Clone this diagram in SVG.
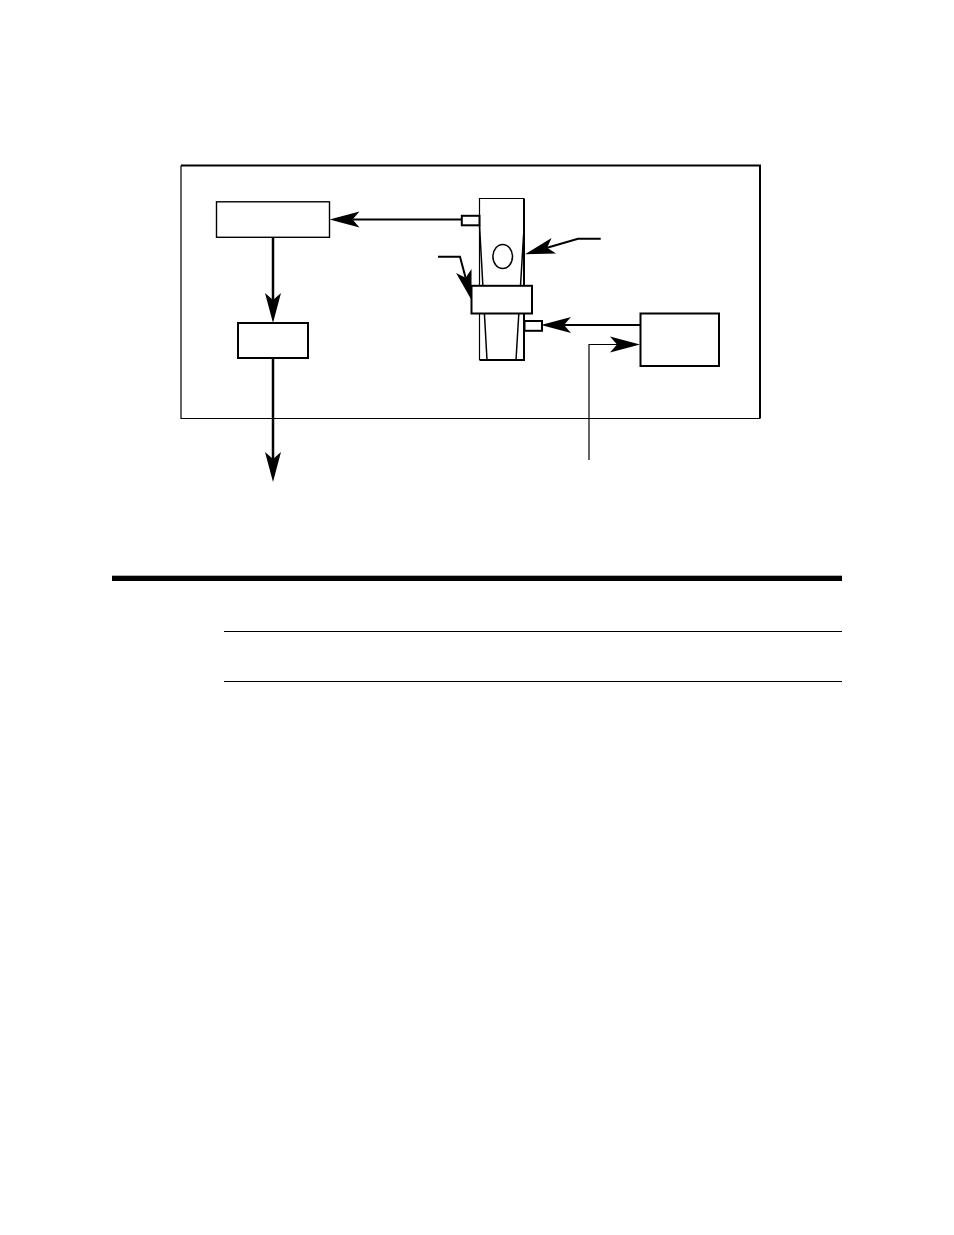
<svg xmlns="http://www.w3.org/2000/svg" width="954" height="1235" viewBox="0 0 954 1235">
<style>
.n{fill:#fff;stroke:#000;stroke-width:2}
.f{fill:#fff;stroke:#000;stroke-width:1.400}
.c{fill:none;stroke:#000;stroke-width:2}
.v{fill:none;stroke:#000;stroke-width:2.500}
.t{fill:none;stroke:#000;stroke-width:1.200}
.i{fill:none;stroke:#000;stroke-width:1.500}
</style>
<defs>
<marker id="ah" markerUnits="userSpaceOnUse" markerWidth="32" markerHeight="18" viewBox="0 0 32 18" refX="7" refY="9" orient="auto" overflow="visible">
<path d="M0,1 L30,9 L0,17 L7,9 Z" fill="#000"/>
</marker>
</defs>
<rect width="954" height="1235" fill="#fff"/>
<g id="frame">
<rect x="181" y="165.500" width="579" height="253" fill="#fff" stroke="none"/>
<path class="t" d="M181,165.500 V418.500 H760" stroke-width="1.200"/>
<path class="c" d="M181,165.500 H760 V418.500"/>
</g>
<g id="box-top-left"><rect class="f" x="216.500" y="201.800" width="113" height="35.500"/></g>
<g id="box-mid-left"><rect class="n" x="238" y="323" width="70" height="35"/></g>
<g id="box-right"><rect class="n" x="640.500" y="313.500" width="78.500" height="52.500"/></g>
<g id="tube">
<rect x="479.500" y="198.500" width="44.500" height="161.500" fill="#fff"/>
<path class="t" d="M479.500,360 V198.500 H524"/>
<path class="c" d="M524,198.500 V360 H479.500"/>
<path class="i" d="M479.500,225 L487,360 M524,228 L516,360"/>
<ellipse cx="502.700" cy="256.500" rx="9.800" ry="12" fill="#fff" stroke="#000" stroke-width="1.500"/>
</g>
<g id="clamp"><rect class="n" x="471.500" y="285.800" width="60.500" height="27.700"/></g>
<g id="port-left"><rect class="n" x="461.800" y="215.800" width="17.700" height="9.500"/></g>
<g id="port-right"><rect class="n" x="524.500" y="321" width="17.500" height="9.800"/></g>
<g id="connectors">
<path class="c" d="M461.800,219.600 H352.500" marker-end="url(#ah)"/>
<path class="v" d="M273,237.500 V300" marker-end="url(#ah)"/>
<path class="v" d="M273,358 V459" marker-end="url(#ah)"/>
<path class="c" d="M640.500,325 H564" marker-end="url(#ah)"/>
<path class="t" d="M589,460 V344.500 H617" marker-end="url(#ah)"/>
<path class="c" d="M600.700,238.700 H578 L547.100,247.700" marker-end="url(#ah)"/>
<path class="c" d="M438,256.700 H460 L465.600,277.800" marker-end="url(#ah)"/>
</g>
<g id="rules">
<rect x="112" y="575.700" width="730" height="5.300" fill="#000"/>
<path class="t" d="M224,631.500 H842 M224,681.500 H842"/>
</g>
</svg>
